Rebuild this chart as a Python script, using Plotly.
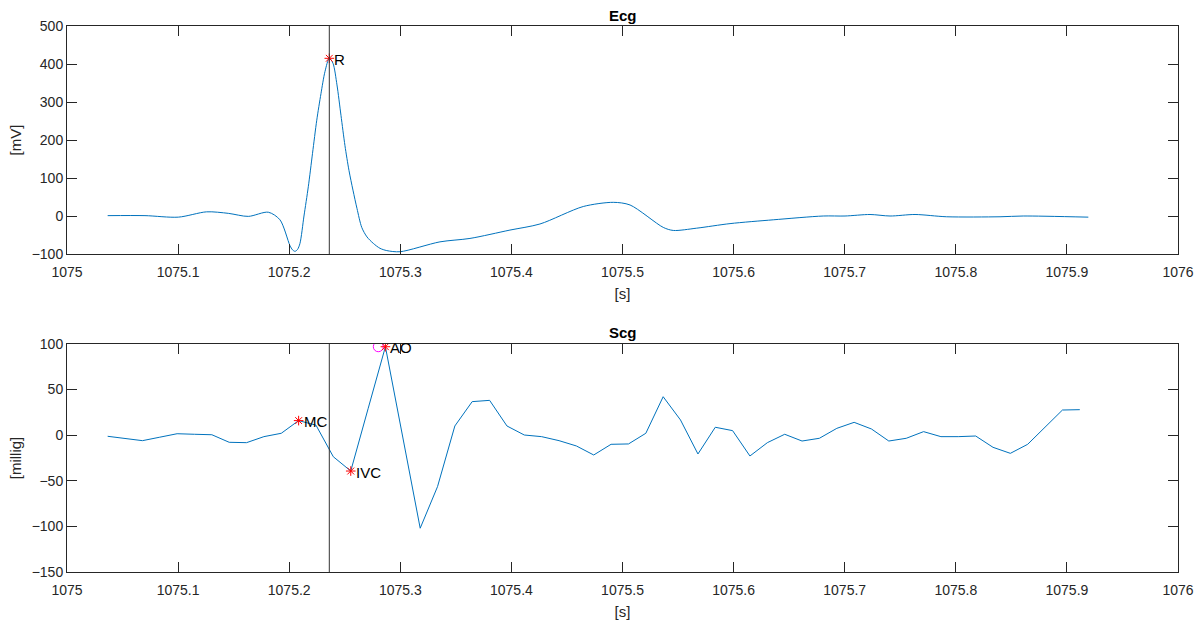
import plotly.graph_objects as go

# ---------------- data ----------------
ecg_t = [1075.0366, 1075.0702, 1075.1002, 1075.1257, 1075.1452, 1075.1632, 1075.1812,
         1075.1917, 1075.2007, 1075.2030, 1075.2052, 1075.2075, 1075.2097, 1075.2133,
         1075.2172, 1075.2210, 1075.2248, 1075.2286, 1075.2322, 1075.2361, 1075.2394,
         1075.2430, 1075.2466, 1075.2502, 1075.2538, 1075.2574, 1075.2610, 1075.2653,
         1075.2700, 1075.2757, 1075.2817, 1075.2878, 1075.2997, 1075.3357, 1075.3627,
         1075.3987, 1075.4257, 1075.4647, 1075.4917, 1075.5068, 1075.5367, 1075.5457,
         1075.5668, 1075.5968, 1075.6357, 1075.6807, 1075.7003, 1075.7228, 1075.7408,
         1075.7633, 1075.7918, 1075.8398, 1075.8607, 1075.9193]
ecg_v = [1, 1, -3, 11, 7, -1, 10,
         -10, -78, -89, -93, -88, -72, 0,
         77, 165, 252, 322, 380, 415, 402,
         345, 265, 185, 120, 68, 20, -30,
         -55, -72, -85, -91, -94, -68, -59,
         -37, -21, 25, 36, 29, -30, -38,
         -32, -20, -10, 0, 0, 4, 0,
         4, -2, -2, 0, -3]

scg_t = [1075.0366, 1075.0522, 1075.0679, 1075.0835, 1075.0991, 1075.1147, 1075.1304,
         1075.1460, 1075.1616, 1075.1772, 1075.1929, 1075.2085, 1075.2241, 1075.2397,
         1075.2554, 1075.2710, 1075.2866, 1075.3022, 1075.3179, 1075.3335, 1075.3491,
         1075.3647, 1075.3804, 1075.3960, 1075.4116, 1075.4272, 1075.4429, 1075.4585,
         1075.4741, 1075.4897, 1075.5054, 1075.5210, 1075.5366, 1075.5522, 1075.5679,
         1075.5835, 1075.5991, 1075.6147, 1075.6304, 1075.6460, 1075.6616, 1075.6772,
         1075.6929, 1075.7085, 1075.7241, 1075.7397, 1075.7554, 1075.7710, 1075.7866,
         1075.8022, 1075.8179, 1075.8335, 1075.8491, 1075.8647, 1075.8804, 1075.8960,
         1075.9116]
scg_v = [-1.2, -3.6, -6, -2.2, 1.6, 1, 0.5,
         -7.8, -8.2, -1.6, 2.1, 16, 11, -23.6,
         -39.3, 29, 97, -2, -102, -56.4, 10.1,
         36.8, 38.2, 10.1, 0.2, -1.6, -6, -11.8,
         -21.7, -10, -9.6, 2.1, 42.2, 16.7, -20.6,
         8.7, 5, -22.8, -8.2, 1, -6.4, -3.4,
         7.5, 14.1, 6.8, -6.4, -3.4, 3.9, -1.6,
         -1.6, -0.9, -13.3, -19.9, -10, 8.7, 27.6,
         28]

ecg_mark_labels = ["R"]
ecg_mark_t = [1075.2361]
ecg_mark_v = [415]

scg_mark_labels = ["MC", "IVC", "AO"]
scg_mark_t = [1075.2085, 1075.2554, 1075.2866]
scg_mark_v = [16, -39.3, 97]

ao_circle_t = [1075.2802]
ao_circle_v = [97]

r_time = 1075.2361

x_ticks = [1075 + i / 10 for i in range(11)]
x_ticktext = ["1075", "1075.1", "1075.2", "1075.3", "1075.4", "1075.5",
              "1075.6", "1075.7", "1075.8", "1075.9", "1076"]
ecg_yticks = [-100, 0, 100, 200, 300, 400, 500]
scg_yticks = [-150, -100, -50, 0, 50, 100]

# ---------------- figure ----------------
LINE = "#0072BD"
AX = "#262626"
FONT = "Liberation Sans, Arial, Helvetica, sans-serif"

fig = go.Figure()

fig.add_trace(go.Scatter(x=ecg_t, y=ecg_v, mode="lines",
                         line=dict(color=LINE, width=1, shape="spline", smoothing=0.8),
                         xaxis="x", yaxis="y", showlegend=False, hoverinfo="skip"))
fig.add_trace(go.Scatter(x=ecg_mark_t, y=ecg_mark_v, mode="markers",
                         marker=dict(symbol="asterisk-open", size=8, color="red", line=dict(color="red", width=1)),
                         xaxis="x", yaxis="y", showlegend=False))

fig.add_trace(go.Scatter(x=scg_t, y=scg_v, mode="lines", line=dict(color=LINE, width=1),
                         xaxis="x2", yaxis="y2", showlegend=False, hoverinfo="skip"))
fig.add_trace(go.Scatter(x=ao_circle_t, y=ao_circle_v, mode="markers",
                         marker=dict(symbol="circle-open", size=10, color="#FF00FF", line=dict(color="#FF00FF", width=1)),
                         xaxis="x2", yaxis="y2", showlegend=False))
fig.add_trace(go.Scatter(x=scg_mark_t, y=scg_mark_v, mode="markers",
                         marker=dict(symbol="asterisk-open", size=8, color="red", line=dict(color="red", width=1)),
                         xaxis="x2", yaxis="y2", showlegend=False))

annotations = [
    dict(text="<b>Ecg</b>", xref="paper", yref="paper", x=0.5, y=1.0, yshift=11,
         xanchor="center", yanchor="middle", showarrow=False,
         font=dict(family=FONT, size=15, color="black")),
    dict(text="<b>Scg</b>", xref="paper", yref="paper", x=0.5, y=0.4176, yshift=11,
         xanchor="center", yanchor="middle", showarrow=False,
         font=dict(family=FONT, size=15, color="black")),
]
for lab, t, v in zip(ecg_mark_labels, ecg_mark_t, ecg_mark_v):
    annotations.append(dict(text=lab, x=t, y=v, xref="x", yref="y", xanchor="left", yanchor="middle",
                            xshift=3, yshift=-1, showarrow=False,
                            font=dict(family=FONT, size=15, color="black")))
for lab, t, v in zip(scg_mark_labels, scg_mark_t, scg_mark_v):
    annotations.append(dict(text=lab, x=t, y=v, xref="x2", yref="y2", xanchor="left", yanchor="middle",
                            xshift=3, yshift=-1, showarrow=False,
                            font=dict(family=FONT, size=15, color="black")))

axis_common = dict(showline=True, linecolor=AX, linewidth=1, mirror="ticks", ticks="inside",
                   ticklen=10, tickwidth=1, tickcolor=AX, showgrid=False, zeroline=False,
                   automargin=False,
                   tickfont=dict(family=FONT, size=14, color=AX))

xax = dict(axis_common, range=[1075, 1076], tickvals=x_ticks, ticktext=x_ticktext,
           ticklabelstandoff=5,
           title=dict(text="[s]", font=dict(family=FONT, size=15, color=AX), standoff=9))

fig.update_layout(
    width=1204, height=623,
    margin=dict(l=67, r=26, t=26, b=51),
    paper_bgcolor="white", plot_bgcolor="white",
    font=dict(family=FONT, color=AX),
    xaxis=dict(xax, anchor="y", domain=[0, 1]),
    yaxis=dict(axis_common, anchor="x", domain=[0.5824, 1], range=[-100, 500], tickvals=ecg_yticks,
               title=dict(text="[mV]", font=dict(family=FONT, size=15, color=AX), standoff=6)),
    xaxis2=dict(xax, anchor="y2", domain=[0, 1]),
    yaxis2=dict(axis_common, anchor="x2", domain=[0, 0.4176], range=[-150, 100], tickvals=scg_yticks,
                title=dict(text="[millig]", font=dict(family=FONT, size=15, color=AX), standoff=6)),
    shapes=[
        dict(type="line", xref="x", yref="y domain", x0=r_time, x1=r_time, y0=0, y1=1,
             line=dict(color="#333333", width=1)),
        dict(type="line", xref="x2", yref="y2 domain", x0=r_time, x1=r_time, y0=0, y1=1,
             line=dict(color="#333333", width=1)),
    ],
    annotations=annotations,
)

fig.write_html("out.html")
